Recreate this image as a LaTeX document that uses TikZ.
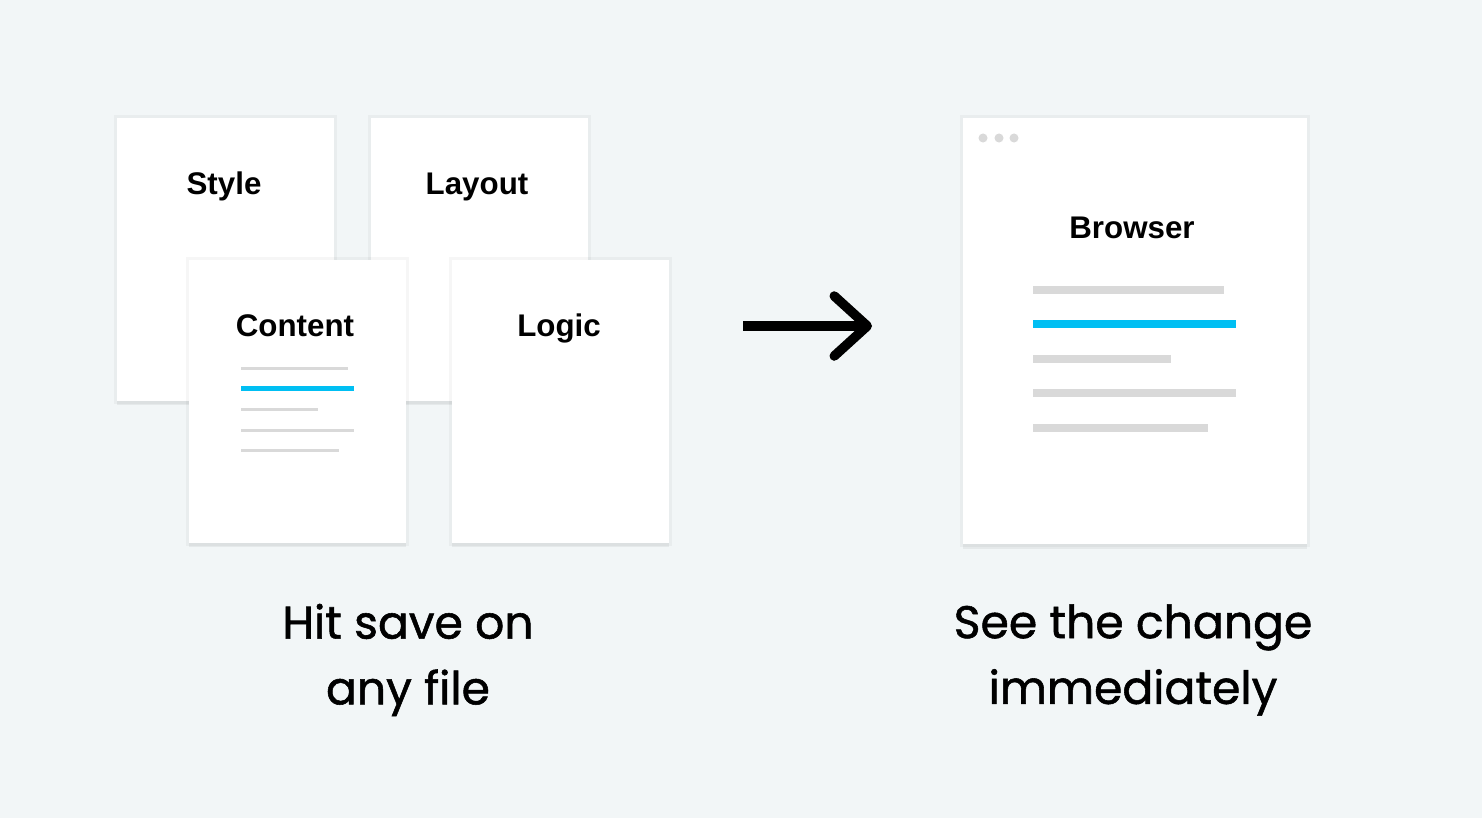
\documentclass[tikz,border=0pt]{standalone}
\usepackage{fontspec}
\setmainfont{Liberation Sans}
\newfontfamily\handfont[FakeBold=1.2]{Poppins}
\usetikzlibrary{arrows.meta}
\definecolor{bgcol}{HTML}{F2F6F7}
\definecolor{linegray}{HTML}{D9D9D9}
\definecolor{lineblue}{HTML}{00BFF3}
\tikzset{
  card/.style={fill=white, inner sep=0pt, anchor=north west,
    minimum width=2.17cm, minimum height=2.83cm,
    preaction={fill=black, fill opacity=0.05, transform canvas={yshift=-1.3pt}},
    preaction={draw=black, draw opacity=0.035, line width=1.6pt}},
  title/.style={font=\bfseries\fontsize{8.9}{10}\selectfont, anchor=base},
  hand/.style={font=\handfont\fontsize{13}{18.7}\selectfont, align=center},
  grayline/.style={draw=linegray, line width=0.85pt},
  blueline/.style={draw=lineblue, line width=1.15pt},
}
\begin{document}
\begin{tikzpicture}[x=0.01cm, y=-0.01cm]
  % 背景
  \fill[bgcol] (0,0) rectangle (1482,818);
  \useasboundingbox (0,0) rectangle (1482,818);
  % 后排文件
  \node[card] (style) at (116,117) {};
  \node[card] (layout) at (370,117) {};
  \node[title] (styletxt) at (224,194) {Style};
  \node[title] (layouttxt) at (477,194) {Layout};
  % 前排文件
  \node[card] (content) at (188,259) {};
  \node[card] (logic) at (451,259) {};
  \node[title] (contenttxt) at (295,336) {Content};
  \node[title] (logictxt) at (559,336) {Logic};
  % 内容里的线条
  \draw[grayline] (241,368) -- (348,368);
  \draw[blueline] (241,388.5) -- (354,388.5);
  \draw[grayline] (241,409) -- (318,409);
  \draw[grayline] (241,430) -- (354,430);
  \draw[grayline] (241,450) -- (339,450);
  % 箭头
  \coordinate (arrowfrom) at (743,326);
  \coordinate (arrowto) at (872,326);
  \draw[line width=2.7pt, -{Straight Barb[length=0.33cm, width=0.6cm, round]}] (arrowfrom) -- (arrowto);
  % 浏览器
  \node[card, minimum width=3.44cm, minimum height=4.26cm] (browser) at (962,117) {};
  \foreach \dx in {983,999,1014}
    \fill[linegray] (\dx,138) circle (0.045cm);
  \node[title] (browsertxt) at (1132,238) {Browser};
  \draw[grayline, line width=2pt] (1033,290) -- (1224,290);
  \draw[blueline, line width=2.3pt] (1033,324) -- (1236,324);
  \draw[grayline, line width=2pt] (1033,359) -- (1171,359);
  \draw[grayline, line width=2pt] (1033,393) -- (1236,393);
  \draw[grayline, line width=2pt] (1033,428) -- (1208,428);
  % 说明文字
  \node[hand] (savetxt) at (408,660) {Hit save on\\any file};
  \node[hand] (seetxt) at (1133,660) {See the change\\immediately};
\end{tikzpicture}
\end{document}
